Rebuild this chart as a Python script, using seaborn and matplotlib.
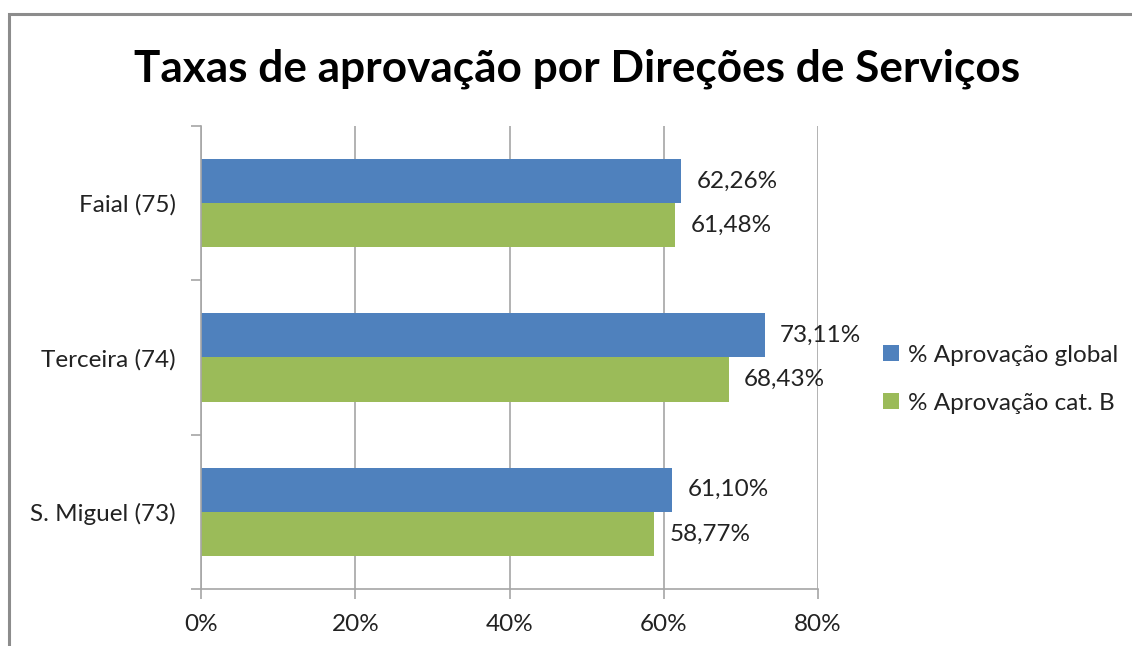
import matplotlib
matplotlib.use("Agg")
import matplotlib.pyplot as plt
import seaborn as sns
import pandas as pd
from matplotlib.patches import Rectangle

categories = ["Faial (75)", "Terceira (74)", "S. Miguel (73)"]
series_names = ["% Aprovação global", "% Aprovação cat. B"]
global_vals = [62.26, 73.11, 61.10]
catb_vals = [61.48, 68.43, 58.77]
x_ticks = [0, 20, 40, 60, 80]
x_tick_labels = ["0%", "20%", "40%", "60%", "80%"]
colors = ["#4F81BD", "#9BBB59"]

df = pd.DataFrame({
    "cat": categories * 2,
    "serie": [series_names[0]] * 3 + [series_names[1]] * 3,
    "val": global_vals + catb_vals,
})

sns.set_theme(style="white")
plt.rcParams["font.family"] = ["Lato", "DejaVu Sans"]

FS = 17.5
fig = plt.figure(figsize=(11.32, 6.46), dpi=100)
ax = fig.add_axes([0.1776, 0.0882, 0.7226 - 0.1776, 0.805 - 0.0882])

sns.barplot(data=df, y="cat", x="val", hue="serie", order=categories,
            hue_order=series_names, palette=colors, width=0.572,
            orient="h", ax=ax, saturation=1, legend=True, linewidth=0)

grid_c = "#A6A6A6"
ax.set_xlim(0, 80)
ax.set_ylim(2.5, -0.5)
ax.set_xticks(x_ticks)
ax.set_xticklabels(x_tick_labels, fontsize=FS, color="#222222")
ax.set_yticks([0, 1, 2])
ax.set_yticklabels(categories, fontsize=FS, color="#222222")
ax.set_yticks([-0.5, 0.5, 1.5, 2.5], minor=True)
ax.tick_params(axis="y", which="major", length=0, pad=18)
ax.tick_params(axis="y", which="minor", length=7, color=grid_c, width=1.2, left=True)
ax.tick_params(axis="x", which="major", length=7, color=grid_c, width=1.2, bottom=True, pad=11)
ax.set_xlabel("")
ax.set_ylabel("")
ax.xaxis.grid(True, color=grid_c, linewidth=1.2)
ax.set_axisbelow(True)
for s in ["top", "right"]:
    ax.spines[s].set_visible(False)
for s in ["left", "bottom"]:
    ax.spines[s].set_color(grid_c)
    ax.spines[s].set_linewidth(1.2)

for cont in ax.containers:
    labels = [f"{v:.2f}%".replace(".", ",") for v in cont.datavalues]
    ax.bar_label(cont, labels=labels, padding=11, fontsize=FS, color="#222222")

handles, labs = ax.get_legend_handles_labels()
ax.get_legend().remove()
fig.legend(handles, labs, loc="center left", bbox_to_anchor=(0.761, 0.413),
           frameon=False, fontsize=FS, handlelength=0.65, handleheight=0.65,
           handletextpad=0.35, labelspacing=1.1, labelcolor="#222222")

fig.text(0.51, 0.893, "Taxas de aprovação por Direções de Serviços",
         ha="center", va="center", fontsize=31.8, fontweight="bold", color="black")

fig.patches.append(Rectangle((0.008, -0.2), 1.2, 0.978 + 0.2, transform=fig.transFigure,
                             fill=False, edgecolor="#8C8C8C", linewidth=2.2))

fig.savefig("out.png", dpi=100)
